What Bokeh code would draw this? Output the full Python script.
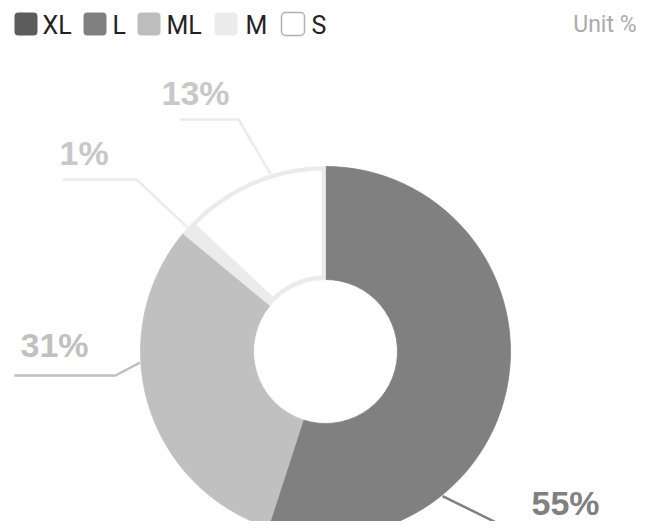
import numpy as np
from bokeh.plotting import figure
from bokeh.models import Range1d
from bokeh.embed import file_html
from bokeh.resources import INLINE
from bokeh.core.properties import value

# ---------------- data ----------------
categories = ["XL", "L", "ML", "M", "S"]
shares = [0, 55, 31, 1, 13]
label_texts = ["0%", "55%", "31%", "1%", "13%"]
slice_colors = ["#5c5c5c", "#808080", "#c0c0c0", "#ebebeb", "#ebebeb"]
legend_colors = ["#5c5c5c", "#808080", "#bdbdbd", "#ebebeb", "#ffffff"]
label_colors = ["#5c5c5c", "#808080", "#c0c0c0", "#c8c8c8", "#c8c8c8"]
unit_text = "Unit %"

# ---------------- layout (screen px of the 649x529 picture) ----------------
W, H = 641, 521
OFF = 0


def X(x):
    return x - OFF


def Y(y):
    return H - (y - OFF)


CX, CY = X(325), Y(351)
R_OUT, R_IN = 185, 72
legend_sq_x = [14, 83, 137, 214, 281]
legend_tx_x = [42, 112, 166, 245, 311]
# leader lines: anchor angle on the rim (deg), elbow point, end point, label pos
leader_angle = [None, -51.0, 183.4, 138.0, 107.2]
leader_elbow = [None, (528, 538), (115, 375), (136, 179), (238, 119)]
leader_end = [None, (640, 538), (14, 375), (62, 179), (179, 119)]
label_pos = [None, (531, 515), (20, 357), (59, 165), (161, 105)]
TXT_SHIFT_LABEL = 13   # svg baseline compensation
TXT_SHIFT_LEG = 9
TXT_SHIFT_UNIT = 8

p = figure(width=W, height=H, output_backend="svg", toolbar_location=None,
           x_range=Range1d(0, W), y_range=Range1d(0, H),
           x_axis_type=None, y_axis_type=None, min_border=0)
p.grid.visible = False
p.outline_line_color = None
p.background_fill_color = "white"
p.border_fill_color = "white"

# ---------------- donut ----------------
cum = 0.0
angles = []
for s in shares:
    a_end = np.radians(90 - cum * 3.6)
    cum += s
    a_start = np.radians(90 - cum * 3.6)
    angles.append((a_start, a_end))

for i, s in enumerate(shares):
    if s <= 0:
        continue
    a0, a1 = angles[i]
    p.annular_wedge(x=CX, y=CY, inner_radius=R_IN, outer_radius=R_OUT,
                    start_angle=a0, end_angle=a1,
                    fill_color=slice_colors[i], line_color=slice_colors[i],
                    line_width=0.8)

# S slice: white interior inside a light-grey border
si = categories.index("S")
a0, a1 = angles[si]
d = 4.0
ro, ri = R_OUT - d, R_IN + d
outer = np.linspace(a0 + np.arcsin(d / ro), a1 - np.arcsin(d / ro), 120)
inner = np.linspace(a1 - np.arcsin(d / ri), a0 + np.arcsin(d / ri), 60)
px = np.concatenate([CX + ro * np.cos(outer), CX + ri * np.cos(inner)])
py = np.concatenate([CY + ro * np.sin(outer), CY + ri * np.sin(inner)])
p.patch(px, py, fill_color="white", line_color=None)

# ---------------- leader lines + labels ----------------
for i, s in enumerate(shares):
    if leader_angle[i] is None:
        continue
    t = np.radians(leader_angle[i])
    sx0 = CX + (R_OUT + 1) * np.cos(t)
    sy0 = CY + (R_OUT + 1) * np.sin(t)
    ex, ey = leader_elbow[i]
    fx, fy = leader_end[i]
    p.line([sx0, X(ex), X(fx)], [sy0, Y(ey), Y(fy)],
           line_color=slice_colors[i], line_width=2.5)
    lx, ly = label_pos[i]
    p.text(x=[X(lx)], y=[Y(ly - TXT_SHIFT_LABEL)], text=[label_texts[i]],
           text_font=value("Liberation Sans"), text_font_style="bold",
           text_font_size="34px", text_color=label_colors[i],
           text_align="left", text_baseline="alphabetic")

# ---------------- legend ----------------
for i, c in enumerate(categories):
    x0 = X(legend_sq_x[i])
    kw = dict(line_color="#b0b0b0", line_width=1.5) if legend_colors[i] == "#ffffff" \
        else dict(line_color=None)
    p.quad(left=x0, right=x0 + 23, top=Y(12), bottom=Y(35),
           fill_color=legend_colors[i], border_radius=4, **kw)
    p.text(x=[X(legend_tx_x[i])], y=[Y(34 - TXT_SHIFT_LEG)], text=[c],
           text_font=value("Roboto"), text_font_size="25px",
           text_color="#222222", text_align="left", text_baseline="alphabetic")

p.text(x=[X(636)], y=[Y(32 - TXT_SHIFT_UNIT)], text=[unit_text],
       text_font=value("Roboto"), text_font_size="23px", text_color="#aaaaaa",
       text_align="right", text_baseline="alphabetic")

open("out.html", "w").write(file_html(p, INLINE))
